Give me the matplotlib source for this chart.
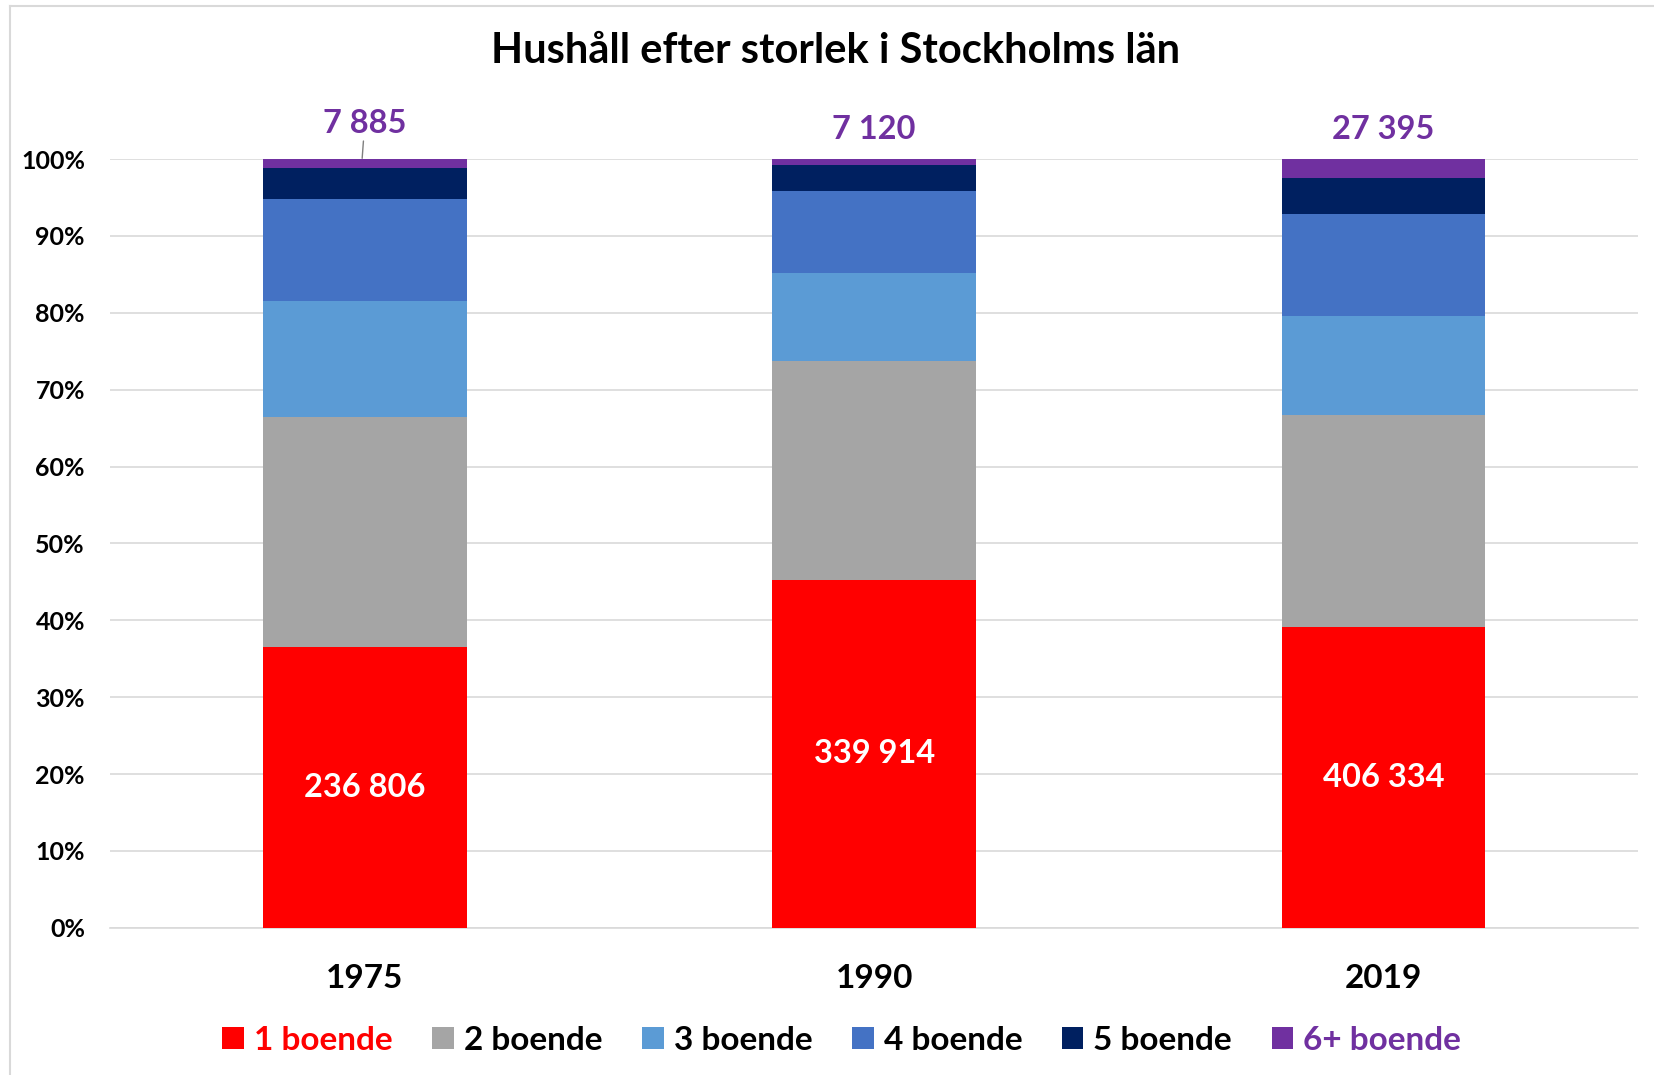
import matplotlib.pyplot as plt
from matplotlib.patches import Patch
from matplotlib.lines import Line2D
import numpy as np

# Data (share of households, %)
years = ['1975', '1990', '2019']
groups = ['1 boende', '2 boende', '3 boende', '4 boende', '5 boende', '6+ boende']
share_1 = [36.5, 45.3, 39.1]
share_2 = [29.9, 28.4, 27.6]
share_3 = [15.1, 11.5, 12.9]
share_4 = [13.3, 10.7, 13.3]
share_5 = [4.0, 3.3, 4.6]
share_6 = [1.2, 0.8, 2.5]
count_1 = ['236 806', '339 914', '406 334']
count_6 = ['7 885', '7 120', '27 395']

colors = ['#FF0000', '#A5A5A5', '#5B9BD5', '#4472C4', '#002060', '#7030A0']
label_colors = ['#FF0000', 'black', 'black', 'black', 'black', '#7030A0']

plt.rcParams['font.family'] = ['Lato', 'DejaVu Sans']
plt.rcParams['font.weight'] = 'bold'

fig = plt.figure(figsize=(16.54, 10.75), dpi=100)
ax = fig.add_axes([0.0665, 0.137, 0.924, 0.715])

x = np.arange(len(years))
shares = [share_1, share_2, share_3, share_4, share_5, share_6]
bottom = np.zeros(len(years))
for s, c in zip(shares, colors):
    ax.bar(x, s, width=0.4, bottom=bottom, color=c, zorder=3)
    bottom = bottom + np.array(s)

# labels
for i in range(len(years)):
    ax.text(x[i], share_1[i] / 2, count_1[i], ha='center', va='center',
            color='white', fontsize=23.5, fontweight='bold', zorder=4)
ax.annotate(count_6[0], xy=(x[0] - 0.005, 100.1), xytext=(x[0], 104.6),
            ha='center', va='center', color='#7030A0', fontsize=23.5, fontweight='bold',
            annotation_clip=False,
            arrowprops=dict(arrowstyle='-', color='#7F7F7F', lw=1, shrinkA=18, shrinkB=0))
for i in [1, 2]:
    ax.text(x[i], 103.9, count_6[i], ha='center', va='center',
            color='#7030A0', fontsize=23.5, fontweight='bold')

ax.set_xlim(-0.5, 2.5)
ax.set_ylim(0, 100)
ax.set_yticks(np.arange(0, 101, 10))
ax.set_yticklabels([f'{v}%' for v in range(0, 101, 10)], fontsize=18, fontweight='bold')
ax.set_xticks(x)
ax.set_xticklabels(years, fontsize=24, fontweight='bold')
ax.tick_params(axis='both', length=0)
ax.tick_params(axis='y', pad=18)
ax.tick_params(axis='x', pad=26)
ax.grid(axis='y', color='#D9D9D9', lw=1.2, zorder=0)
for side in ['top', 'right', 'left']:
    ax.spines[side].set_visible(False)
ax.spines['bottom'].set_color('#D9D9D9')
ax.spines['bottom'].set_linewidth(1.2)

fig.text(0.505, 0.953, 'Hushåll efter storlek i Stockholms län', ha='center', va='center',
         fontsize=30, fontweight='bold')

handles = [Patch(facecolor=c) for c in colors]
leg = fig.legend(handles, groups, loc='center', bbox_to_anchor=(0.509, 0.032), ncol=6,
                 frameon=False, fontsize=24, handlelength=0.64, handleheight=0.64,
                 handletextpad=0.3, columnspacing=1.2)
for t, c in zip(leg.get_texts(), label_colors):
    t.set_color(c)
    t.set_fontweight('bold')

# chart border
fig.add_artist(Line2D([10 / 1654, 10 / 1654], [0, 1 - 6 / 1075], color='#D9D9D9', lw=1.5))
fig.add_artist(Line2D([10 / 1654, 1], [1 - 6 / 1075, 1 - 6 / 1075], color='#D9D9D9', lw=1.5))

fig.savefig('out.png', dpi=100)
